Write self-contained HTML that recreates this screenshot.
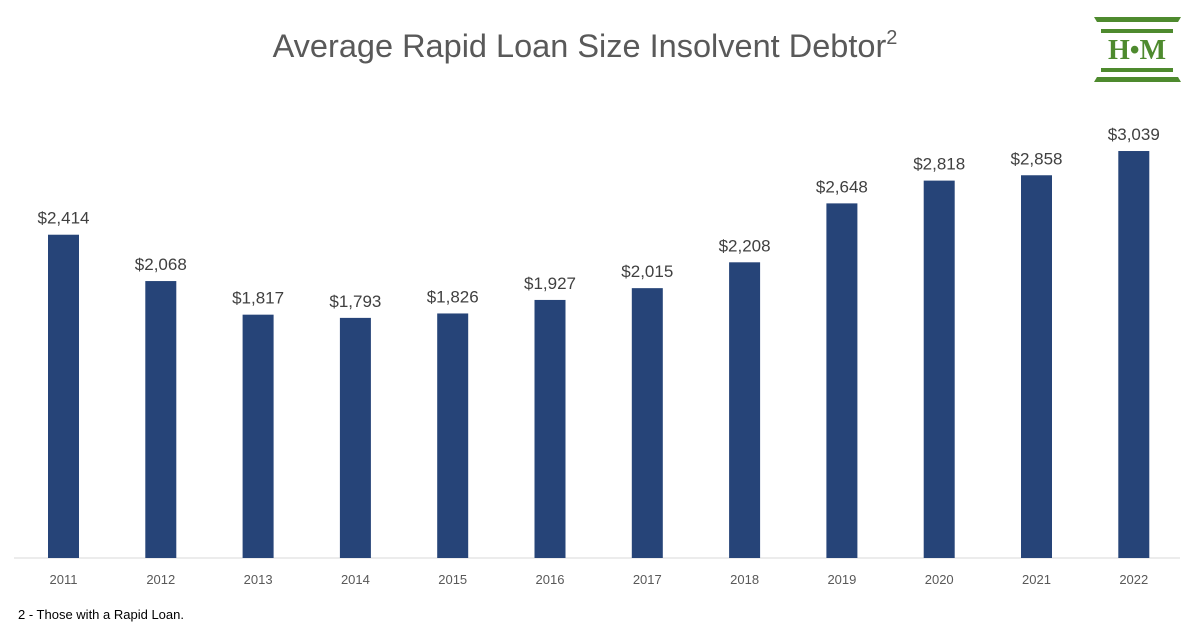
<!DOCTYPE html>
<html><head><meta charset="utf-8"><style>
body{margin:0;background:#fff;width:1200px;height:625px;overflow:hidden;font-family:"Liberation Sans",sans-serif}
</style></head><body>
<svg width="1200" height="625">
<text x="585" y="57" text-anchor="middle" font-size="32.5" fill="#595959">Average Rapid Loan Size Insolvent Debtor<tspan font-size="20" dy="-13">2</tspan></text>
<g fill="#4e8a2e">
<polygon points="1094,17 1181,17 1178,22 1097,22"/>
<rect x="1101" y="29" width="72" height="4"/>
<text x="1137" y="59" text-anchor="middle" font-family="Liberation Serif" font-weight="bold" font-size="28" fill="#4e8a2e">H•M</text>
<rect x="1101" y="68" width="72" height="4"/>
<polygon points="1097,77 1178,77 1181,82 1094,82"/>
</g>
<line x1="14" y1="558" x2="1180" y2="558" stroke="#d9d9d9"/>
<g id="bars"></g>
<text x="18" y="619" font-size="13" fill="#000">2 - Those with a Rapid Loan.</text>
</svg>
<script>
const years=["2011","2012","2013","2014","2015","2016","2017","2018","2019","2020","2021","2022"];
const values=[2414,2068,1817,1793,1826,1927,2015,2208,2648,2818,2858,3039];
const labels=["$2,414","$2,068","$1,817","$1,793","$1,826","$1,927","$2,015","$2,208","$2,648","$2,818","$2,858","$3,039"];
const y=v=>558-v*0.13392;
const x=i=>63+i*97.3;
const g=document.getElementById('bars');
const NS="http://www.w3.org/2000/svg";
years.forEach((yr,i)=>{
 const r=document.createElementNS(NS,'rect');
 r.setAttribute('x',x(i)-15);r.setAttribute('width',31);
 r.setAttribute('y',y(values[i]));r.setAttribute('height',558-y(values[i]));
 r.setAttribute('fill','#264478');
 
 
 g.appendChild(r);
 const t=document.createElementNS(NS,'text');
 t.setAttribute('x',x(i)+0.5);t.setAttribute('y',y(values[i])-11);
 t.setAttribute('text-anchor','middle');t.setAttribute('font-size','17');t.setAttribute('fill','#404040');
 t.textContent=labels[i];
 
 
 g.appendChild(t);
 const a=document.createElementNS(NS,'text');
 a.setAttribute('x',x(i)+0.5);a.setAttribute('y',584);
 a.setAttribute('text-anchor','middle');a.setAttribute('font-size','13');a.setAttribute('fill','#595959');
 a.textContent=yr;
 
 
 g.appendChild(a);
});
</script>
</body></html>
